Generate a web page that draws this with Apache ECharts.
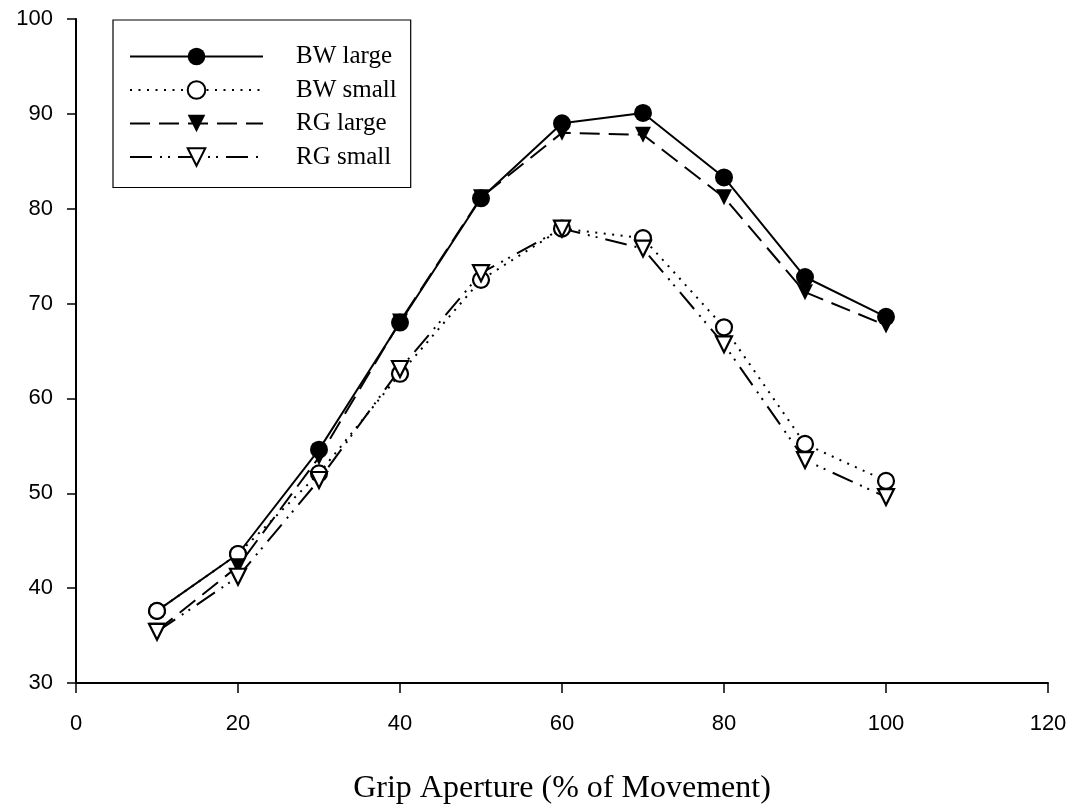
<!DOCTYPE html>
<html>
<head>
<meta charset="utf-8">
<script src="https://cdn.jsdelivr.net/npm/echarts@6/dist/echarts.min.js"></script>
<style>
  html, body { margin: 0; padding: 0; background: #fff; }
  #chart1 { width: 1085px; height: 810px; }
</style>
</head>
<body>
<div id="chart1"></div>
<script>
// data
var xValues = [10, 20, 30, 40, 50, 60, 70, 80, 90, 100];
var bwLarge = [37.6, 43.6, 54.6, 68.0, 81.1, 89.0, 90.1, 83.3, 72.8, 68.6];
var bwSmall = [37.6, 43.6, 52.1, 62.6, 72.5, 77.9, 76.9, 67.5, 55.2, 51.3];
var rgLarge = [35.5, 42.3, 53.8, 68.1, 81.2, 88.0, 87.8, 81.2, 71.2, 67.7];
var rgSmall = [35.4, 41.2, 51.4, 63.1, 73.2, 77.9, 75.8, 65.7, 53.5, 49.6];
var seriesNames = ['BW large', 'BW small', 'RG large', 'RG small'];

function pairs(ys) {
  return xValues.map(function (x, i) { return [x, ys[i]]; });
}

function chart() {
  var minechart1 = echarts.init(document.getElementById('chart1'));
  var axisText = { fontFamily: 'Liberation Sans', fontSize: 22, color: '#000' };

  function makeSeries(name, ys, lineType, symbol, rotate, filled, size) {
    return {
      name: name,
      type: 'line',
      data: pairs(ys),
      symbol: symbol,
      symbolRotate: rotate,
      symbolSize: size,
      showAllSymbol: true,
      lineStyle: { color: '#000', width: 2, type: lineType },
      itemStyle: {
        color: filled ? '#000' : '#fff',
        borderColor: '#000',
        borderWidth: filled ? 0 : 2.2
      },
      emphasis: { disabled: true }
    };
  }

  var option = {
    animation: false,
    grid: { left: 76, right: 37, top: 19, bottom: 127, containLabel: false },
    legend: {
      left: 113,
      top: 20,
      orient: 'vertical',
      data: seriesNames,
      itemWidth: 133,
      itemHeight: 22,
      itemGap: 8.5,
      padding: [24, 14, 18, 16],
      borderColor: '#000',
      borderWidth: 1.2,
      textStyle: {
        fontFamily: 'Liberation Serif',
        fontSize: 25,
        color: '#000',
        padding: [0, 0, 0, 28]
      }
    },
    xAxis: {
      type: 'value',
      min: 0,
      max: 120,
      interval: 20,
      splitLine: { show: false },
      axisLine: { lineStyle: { color: '#000', width: 2 } },
      axisTick: { length: 10, lineStyle: { color: '#000', width: 1.5 } },
      axisLabel: Object.assign({ margin: 30 }, axisText),
      name: 'Grip Aperture (% of Movement)',
      nameLocation: 'middle',
      nameGap: 90,
      nameTextStyle: { fontFamily: 'Liberation Serif', fontSize: 32, color: '#000' }
    },
    yAxis: {
      type: 'value',
      min: 30,
      max: 100,
      interval: 10,
      splitLine: { show: false },
      axisLine: { show: true, lineStyle: { color: '#000', width: 2 } },
      axisTick: { show: true, length: 9, lineStyle: { color: '#000', width: 1.5 } },
      axisLabel: Object.assign({ margin: 23 }, axisText)
    },
    series: [
      makeSeries(seriesNames[0], bwLarge, 'solid', 'circle', 0, true, 18),
      makeSeries(seriesNames[1], bwSmall, [2, 6.5], 'circle', 0, false, 16),
      makeSeries(seriesNames[2], rgLarge, [20, 9], 'triangle', 180, true, 16),
      makeSeries(seriesNames[3], rgSmall, [22, 8, 2, 6, 2, 8], 'triangle', 180, false, 16)
    ]
  };

  minechart1.setOption(option);
}
chart();
</script>
</body>
</html>
